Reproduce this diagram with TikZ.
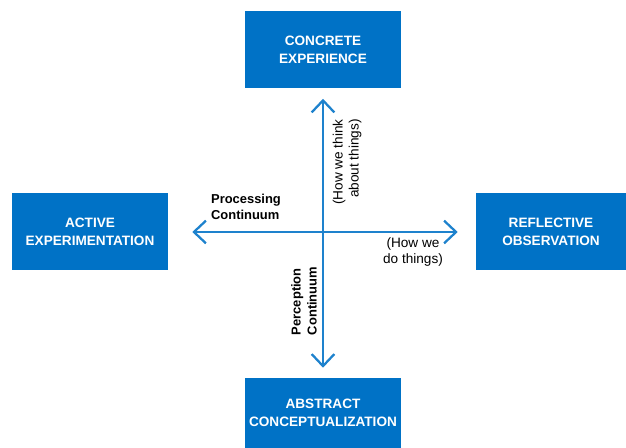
\documentclass[tikz,border=0pt]{standalone}
\usepackage{fontspec}
\setmainfont{Liberation Sans}
\usetikzlibrary{arrows.meta}

\definecolor{kolbblue}{RGB}{0,114,198}
\definecolor{axisblue}{RGB}{30,130,205}

\tikzset{
  stage/.style={fill=kolbblue, text=white, font=\bfseries\fontsize{10.2}{13.5}\selectfont,
    align=center, inner sep=0pt, minimum width=117pt, minimum height=57.75pt},
  continuum/.style={draw=axisblue, line width=1.7pt, -{Straight Barb[length=9pt,width=17pt]}},
  lbl/.style={font=\fontsize{10.2}{12}\selectfont, inner sep=0pt},
  lblbold/.style={font=\bfseries\fontsize{9.7}{12}\selectfont, inner sep=0pt}
}

\begin{document}
\begin{tikzpicture}[x=0.75pt,y=0.75pt,yscale=-1,xscale=1]
\useasboundingbox (0,0) rectangle (626,448);

%centre where the two continua cross
\coordinate (c) at (323,232);

%Stages
\node[stage] (ce) at (323,50) {CONCRETE\\EXPERIENCE};
\node[stage, minimum height=52.5pt] (ac) at (323,413) {ABSTRACT\\CONCEPTUALIZATION};
\node[stage] (ae) at (90,232) {ACTIVE\\EXPERIMENTATION};
\node[stage, minimum width=112.5pt] (ro) at (551,232) {REFLECTIVE\\OBSERVATION};

%Continua
\draw[continuum, shorten >=7.5pt] (c) -- (ce);
\draw[continuum, shorten >=7.5pt] (c) -- (ac);
\draw[continuum, shorten >=18pt] (c) -- (ae);
\draw[continuum, shorten >=13.5pt] (c) -- (ro);

% Text Node
\node[lblbold, align=left] (proc) at (246,207) {Processing\\Continuum};
% Text Node
\node[lbl, rotate=90, align=right] (think) at (347,162) {(How we think\\about things)};
% Text Node
\node[lbl, align=center] (do) at (413,252) {(How we\\do things)};
% Text Node
\node[lblbold, rotate=90, align=left] (perc) at (304,301) {Perception\\Continuum};

\end{tikzpicture}
\end{document}
